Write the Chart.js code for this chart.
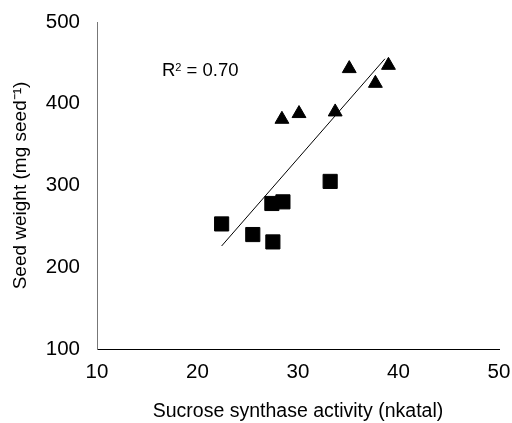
<!DOCTYPE html>
<html>
<head>
<meta charset="utf-8">
<script src="https://cdn.jsdelivr.net/npm/chart.js@4/dist/chart.umd.min.js"></script>
<style>
  html, body { margin: 0; padding: 0; background: #fff; }
  #wrap { width: 512px; height: 423px; }
</style>
</head>
<body>
<div id="wrap"><canvas id="chart"></canvas></div>
<script>
// squares
var sq_x = [22.4, 25.5, 27.5, 27.4, 28.5, 33.2];
var sq_y = [253, 240, 231, 278, 280, 305];
// triangles
var tri_x = [28.4, 30.1, 33.7, 35.1, 37.7, 39.0];
var tri_y = [381, 388, 390, 443, 425, 447];
// fitted line
var fit_x = [22.4, 38.65];
var fit_y = [226, 455];
var x_ticks = [10, 20, 30, 40, 50];
var y_ticks = [100, 200, 300, 400, 500];
var r2_text = "0.70";

function pts(xs, ys){
    var out = [];
    for(var i = 0; i < xs.length; i++){
        out.push({x: xs[i], y: ys[i]});
    }
    return out;
}

var FONT = "Liberation Sans, Arial, sans-serif";

//R2 label
var r2_plugin = {
    id: 'r2',
    afterDraw: function(chart){
        var ctx = chart.ctx;
        ctx.save();
        ctx.fillStyle = '#000';
        ctx.textBaseline = 'alphabetic';
        ctx.textAlign = 'left';
        var x = 162, y = 76;
        ctx.font = "18.5px " + FONT;
        ctx.fillText("R", x, y);
        x += ctx.measureText("R").width;
        ctx.font = "11px " + FONT;
        ctx.fillText("2", x, y - 5.5);
        x += ctx.measureText("2").width;
        ctx.font = "18.5px " + FONT;
        ctx.fillText(" = " + r2_text, x, y);
        ctx.restore();
    }
};

new Chart(document.getElementById("chart"), {
    type: 'scatter',
    data: {
        datasets: [{
            data: pts(fit_x, fit_y),
            showLine: true,
            borderColor: '#000',
            borderWidth: 1,
            pointRadius: 0
        }, {
            data: pts(sq_x, sq_y),
            pointStyle: 'rect',
            pointRadius: 10,
            backgroundColor: '#000',
            borderColor: '#000'
        }, {
            data: pts(tri_x, tri_y),
            pointStyle: 'triangle',
            pointRadius: 8,
            backgroundColor: '#000',
            borderColor: '#000'
        }]
    },
    options: {
        responsive: true,
        maintainAspectRatio: false,
        animation: false,
        layout: { padding: { top: 22, right: 13, left: 0, bottom: 0 } },
        plugins: {
            legend: { display: false },
            tooltip: { enabled: false }
        },
        scales: {
            x: {
                type: 'linear',
                min: 10, max: 50,
                afterBuildTicks: function(scale){
                    scale.ticks = x_ticks.map(function(v){ return {value: v}; });
                },
                afterFit: function(scale){
                    scale.height = 74;
                    scale.paddingLeft = 0;
                    scale.paddingRight = 0;
                },
                grid: { display: false, drawTicks: true, tickLength: 6, color: '#000' },
                border: { display: true, color: '#000', width: 1 },
                ticks: { color: '#000', font: { family: FONT, size: 20.5 }, padding: 5, maxRotation: 0 },
                title: {
                    display: true,
                    text: 'Sucrose synthase activity (nkatal)',
                    color: '#000',
                    font: { family: FONT, size: 19.5 },
                    padding: { top: 4, bottom: 0 }
                }
            },
            y: {
                type: 'linear',
                min: 100, max: 500,
                afterBuildTicks: function(scale){
                    scale.ticks = y_ticks.map(function(v){ return {value: v}; });
                },
                afterFit: function(scale){
                    scale.width = 97;
                    scale.paddingTop = 0;
                    scale.paddingBottom = 0;
                },
                grid: { display: false, drawTicks: true, tickLength: 6, color: '#777' },
                border: { display: true, color: '#777', width: 1 },
                ticks: { color: '#000', font: { family: FONT, size: 20.5 }, padding: 11 },
                title: {
                    display: true,
                    text: 'Seed weight (mg seed\u207B\u00B9)',
                    color: '#000',
                    font: { family: FONT, size: 19 },
                    padding: { top: 9, bottom: 4 }
                }
            }
        }
    },
    plugins: [r2_plugin]
});
</script>
</body>
</html>
